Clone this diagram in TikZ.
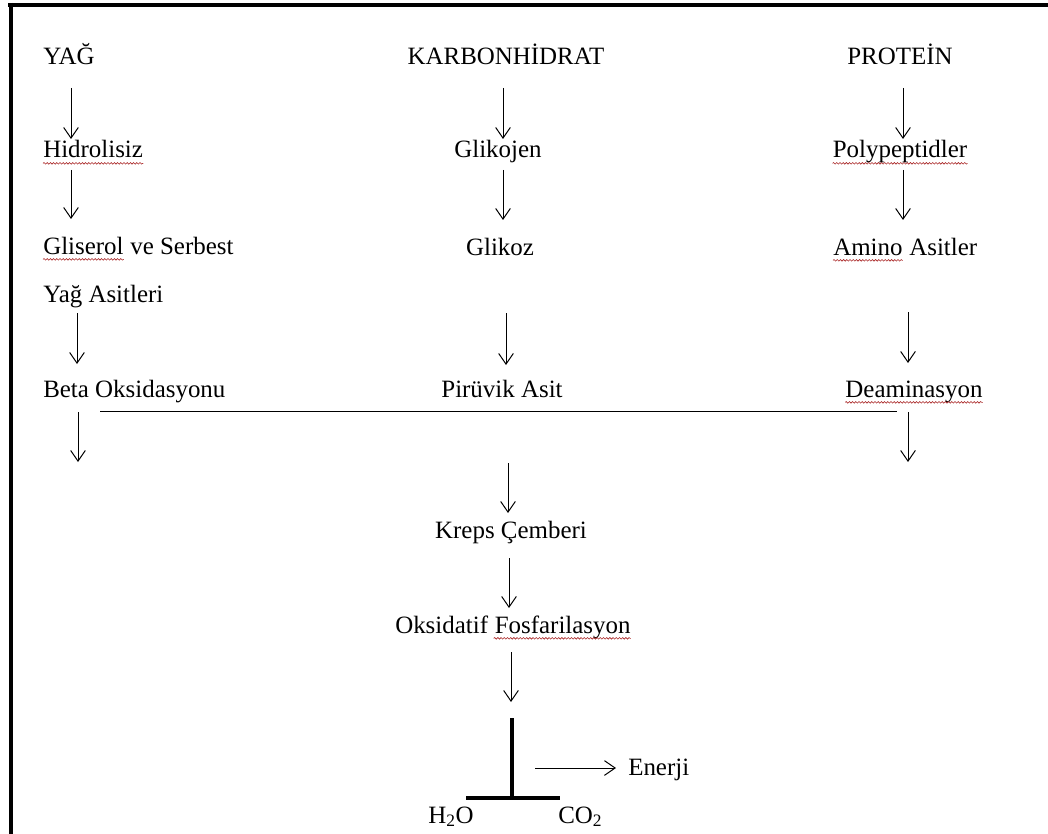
\documentclass[tikz,border=0pt]{standalone}
\usepackage{fontspec}
\setmainfont{Liberation Serif}
\usetikzlibrary{arrows.meta,decorations.pathmorphing}
\definecolor{squigred}{RGB}{170,40,40}
\begin{document}
\begin{tikzpicture}[x=0.75pt,y=-0.75pt,
  lbl/.style={inner sep=0pt,font=\fontsize{18.7}{20}\selectfont},
  arr/.style={line width=0.75pt,-{Straight Barb[length=8pt,width=11pt,line width=0.75pt]}},
  thin/.style={line width=0.75pt},
  thick/.style={line width=3pt},
  frame/.style={line width=3pt},
  squig/.style={draw=squigred,line width=0.45pt,decorate,
    decoration={snake,amplitude=0.6pt,segment length=2.4pt}}]
\useasboundingbox (0,0) rectangle (1048,834);

% page frame: top and left edges
\draw[frame] (8,5) -- (1048,5);
\draw[frame] (10.5,3) -- (10.5,834);

% fat column
\node[lbl,anchor=base west] (yag) at (43,65) {YAĞ};
\node[lbl,anchor=base west] (hid) at (43,158) {Hidrolisiz};
\node[lbl,anchor=base west] (gli) at (43,254) {Gliserol};
\node[lbl,anchor=base west] (ves) at (gli.base east) {\ ve Serbest};
\node[lbl,anchor=base west] (yas) at (43,302) {Yağ Asitleri};
\node[lbl,anchor=base west] (beta) at (43,397) {Beta Oksidasyonu};

% carbohydrate column
\node[lbl,anchor=base] (karb) at (506,65) {KARBONHİDRAT};
\node[lbl,anchor=base] (glikojen) at (498,158) {Glikojen};
\node[lbl,anchor=base] (glikoz) at (500,255) {Glikoz};
\node[lbl,anchor=base] (piruvik) at (502,397) {Pirüvik Asit};
\node[lbl,anchor=base] (kreps) at (511,538) {Kreps Çemberi};
\node[lbl,anchor=base west] (oks) at (395,633) {Oksidatif};
\node[lbl,anchor=base west] (fosf) at (oks.base east) {\ Fosfarilasyon};

% protein column
\node[lbl,anchor=base] (prot) at (900,65) {PROTEİN};
\node[lbl,anchor=base] (poly) at (900,158) {Polypeptidler};
\node[lbl,anchor=base west] (amino) at (833,255) {Amino};
\node[lbl,anchor=base west] (asit) at (amino.base east) {\ Asitler};
\node[lbl,anchor=base] (deam) at (914,397) {Deaminasyon};

% products
\node[lbl,anchor=base west] (enerji) at (628,775) {Enerji};
\node[lbl,anchor=base west] (water) at (428,823) {H\textsubscript{2}O};
\node[lbl,anchor=base west] (co) at (558,823) {CO\textsubscript{2}};

% spell-check underlines
\path[squig] ([yshift=-4pt]hid.base west) -- ([yshift=-4pt]hid.base east);
\path[squig] ([yshift=-4pt]gli.base west) -- ([yshift=-4pt]gli.base east);
\path[squig] ([yshift=-4pt]poly.base west) -- ([yshift=-4pt]poly.base east);
\path[squig] ([yshift=-4pt]amino.base west) -- ([yshift=-4pt]amino.base east);
\path[squig] ([yshift=-4pt]deam.base west) -- ([yshift=-4pt]deam.base east);
\path[squig] ([xshift=4pt,yshift=-4pt]fosf.base west) -- ([yshift=-4pt]fosf.base east);

% arrow end points
\coordinate (a1s) at (71,88);  \coordinate (a1e) at (71,139);
\coordinate (a2s) at (71,170); \coordinate (a2e) at (71,219);
\coordinate (a3s) at (77,313); \coordinate (a3e) at (77,364);
\coordinate (a4s) at (78,412); \coordinate (a4e) at (78,462);
\coordinate (b1s) at (503,88);  \coordinate (b1e) at (503,139);
\coordinate (b2s) at (503,170); \coordinate (b2e) at (503,220);
\coordinate (b3s) at (506,313); \coordinate (b3e) at (506,365);
\coordinate (b4s) at (508,463); \coordinate (b4e) at (508,513);
\coordinate (b5s) at (509,558); \coordinate (b5e) at (509,608);
\coordinate (b6s) at (511,652); \coordinate (b6e) at (511,702);
\coordinate (c1s) at (903,88);  \coordinate (c1e) at (903,139);
\coordinate (c2s) at (903,170); \coordinate (c2e) at (903,220);
\coordinate (c3s) at (908,312); \coordinate (c3e) at (908,363);
\coordinate (c4s) at (908,412); \coordinate (c4e) at (908,462);
\coordinate (ens) at (535,768); \coordinate (ene) at (616,768);
\coordinate (barl) at (100,411); \coordinate (barr) at (897,411);
\coordinate (tt) at (512,718); \coordinate (tb) at (512,798);
\coordinate (tl) at (466,798); \coordinate (tr) at (560,798);

\foreach \p in {a1,a2,a3,a4,b1,b2,b3,b4,b5,b6,c1,c2,c3,c4,en}
  \draw[arr] (\p s) -- (\p e);

% joining line between the three pathways
\draw[thin] (barl) -- (barr);

% final split into water and carbon dioxide
\draw[thick] (tt) -- (tb);
\draw[thick] (tl) -- (tr);
\end{tikzpicture}
\end{document}
